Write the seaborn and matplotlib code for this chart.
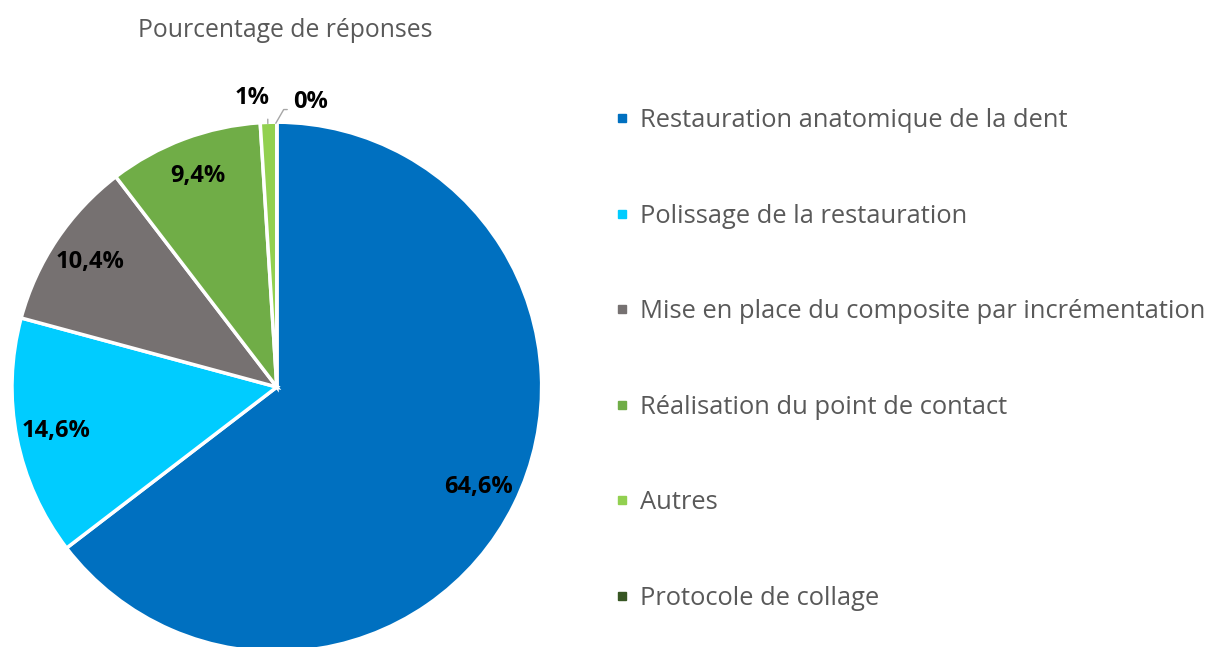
import numpy as np
import matplotlib
matplotlib.use("Agg")
import matplotlib.pyplot as plt
import seaborn as sns
from matplotlib.lines import Line2D

categories = [
    "Restauration anatomique de la dent",
    "Polissage de la restauration",
    "Mise en place du composite par incrémentation",
    "Réalisation du point de contact",
    "Autres",
    "Protocole de collage",
]
values = [64.6, 14.6, 10.4, 9.4, 1.0, 0.0]
value_labels = ["64,6%", "14,6%", "10,4%", "9,4%", "1%", "0%"]
colors = ["#0070C0", "#00CCFF", "#767171", "#70AD47", "#92D050", "#375623"]

sns.set_theme(style="white")
plt.rcParams["font.family"] = ["Open Sans", "DejaVu Sans"]

fig = plt.figure(figsize=(12.12, 6.47), dpi=100)
ax = fig.add_axes([0.0099, -0.0077, 0.437, 0.819])

wedges, _ = ax.pie(
    values,
    colors=colors,
    startangle=90,
    counterclock=False,
    radius=1.0,
    wedgeprops={"linewidth": 2.5, "edgecolor": "white"},
)
ax.set_xlim(-1, 1)
ax.set_ylim(-1, 1)
ax.set_aspect("equal")

# labels inside the big slices
for w, lab, v in zip(wedges, value_labels, values):
    mid = np.deg2rad((w.theta1 + w.theta2) / 2)
    if v >= 5:
        r = 0.85
        ax.text(r * np.cos(mid), r * np.sin(mid), lab, ha="center", va="center",
                fontsize=17, fontweight="bold", color="black")

# small slices with leader lines
ax.annotate("1%", xy=(-0.034, 0.995), xytext=(-0.094, 1.09),
            ha="center", va="center", fontsize=17, fontweight="bold", color="black",
            arrowprops=dict(arrowstyle="-", color="#A6A6A6", lw=1,
                            shrinkA=4, shrinkB=0, relpos=(0.95, 0.0)))
ax.annotate("0%", xy=(-0.004, 0.996), xytext=(0.128, 1.075),
            ha="center", va="center", fontsize=17, fontweight="bold", color="black",
            arrowprops=dict(arrowstyle="-", color="#A6A6A6", lw=1,
                            connectionstyle="angle,angleA=0,angleB=60,rad=0",
                            shrinkA=2, shrinkB=0, relpos=(0.0, 0.2)))

fig.text(0.235, 0.953, "Pourcentage de réponses", ha="center", va="center",
         fontsize=17.8, color="#595959")

handles = [Line2D([0], [0], marker="s", linestyle="none", markersize=6,
                  markerfacecolor=c, markeredgecolor=c) for c in colors]
fig.legend(handles, categories, loc="upper left", bbox_to_anchor=(0.508, 0.833),
           frameon=False, fontsize=18.4, labelcolor="#595959",
           handlelength=0.5, handletextpad=0.45, labelspacing=2.76,
           borderaxespad=0, borderpad=0)

fig.savefig("out.png", dpi=100)
